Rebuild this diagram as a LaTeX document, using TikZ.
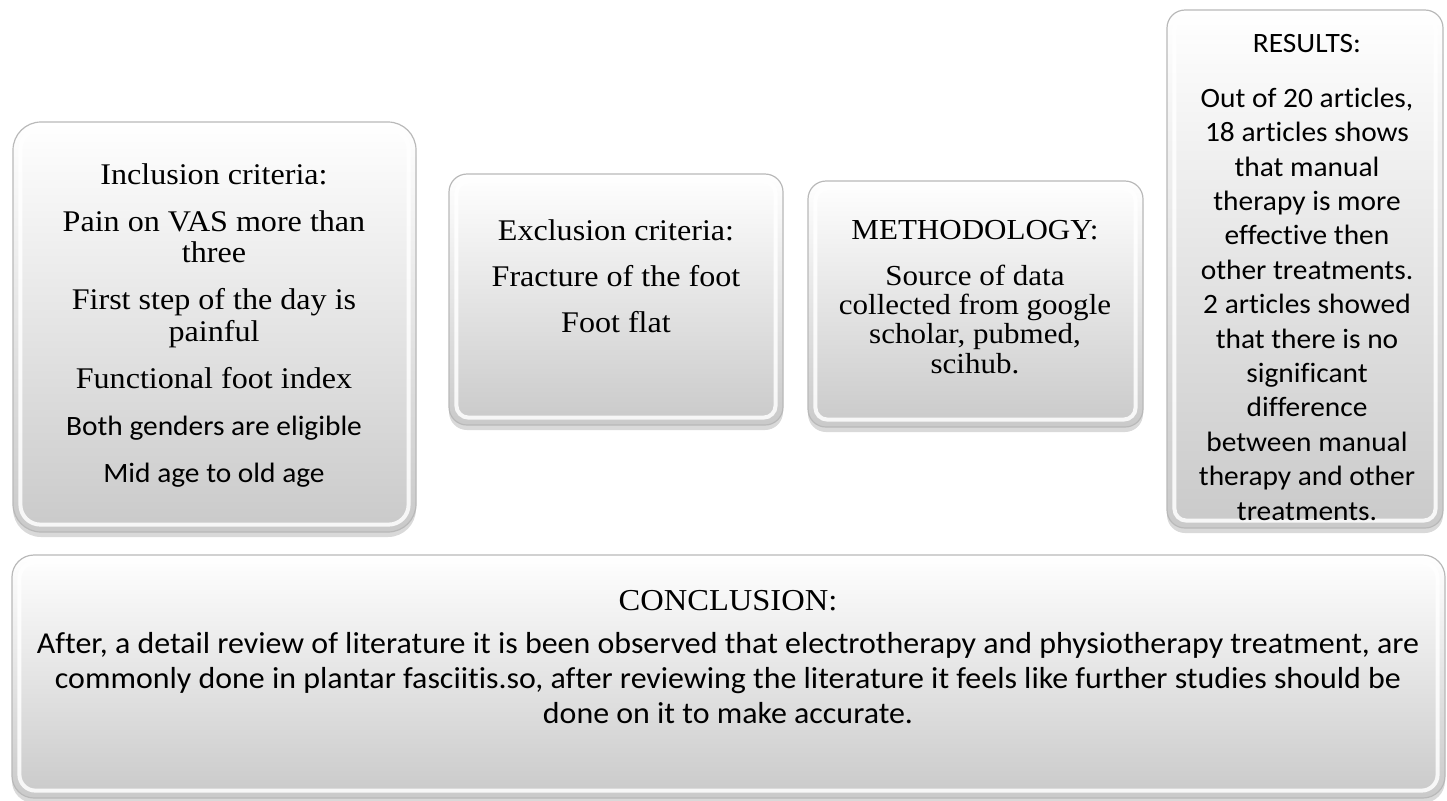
\documentclass[tikz,border=0pt]{standalone}
\usepackage{fontspec}
\setmainfont[FakeStretch=1.07, Ligatures=NoCommon]{Liberation Serif}
\newfontfamily\calfont[FakeStretch=1.05, Ligatures=NoCommon]{Carlito}
\usetikzlibrary{shadows,calc}
\tikzset{
  panel/.style={draw=gray!55, line width=0.6pt, top color=white, bottom color=gray!42,
    drop shadow={opacity=0.3, shadow xshift=0pt, shadow yshift=-2.5pt}, inner sep=0pt},
  rim/.style={draw=white, line width=2pt, opacity=0.85},
  boxtext/.style={align=center, anchor=base, inner sep=0pt},
}

\begin{document}
\begin{tikzpicture}[x=0.5pt, y=-0.5pt]
  \useasboundingbox (0,0) rectangle (1447,800);
  % Draw the boxes
  \node[panel, rounded corners=14pt, minimum width=201.5pt, minimum height=205pt] (incl) at (214.5,327) {};
  \node[panel, rounded corners=9pt, minimum width=167pt, minimum height=125.5pt] (excl) at (616,299.5) {};
  \node[panel, rounded corners=9pt, minimum width=167.5pt, minimum height=123pt] (meth) at (975.5,304) {};
  \node[panel, rounded corners=9pt, minimum width=138pt, minimum height=259pt] (res) at (1305,269) {};
  \node[panel, rounded corners=11pt, minimum width=716.5pt, minimum height=121.5pt] (concl) at (728.5,676.5) {};
  % bevel rims
  \draw[rim, rounded corners=10pt] ([shift={(8,8)}]incl.north west) rectangle ([shift={(-8,-8)}]incl.south east);
  \draw[rim, rounded corners=6pt] ([shift={(8,8)}]excl.north west) rectangle ([shift={(-8,-8)}]excl.south east);
  \draw[rim, rounded corners=6pt] ([shift={(8,8)}]meth.north west) rectangle ([shift={(-8,-8)}]meth.south east);
  \draw[rim, rounded corners=6pt] ([shift={(8,8)}]res.north west) rectangle ([shift={(-8,-8)}]res.south east);
  \draw[rim, rounded corners=8pt] ([shift={(8,8)}]concl.north west) rectangle ([shift={(-8,-8)}]concl.south east);
  % Texts (anchored at the baseline of the last line)
  \node[boxtext, font=\fontsize{15}{15.75}\selectfont] (incltext) at (214,482)
    {Inclusion criteria:\\[7.75pt]
     Pain on VAS more than\\three\\[7.75pt]
     First step of the day is\\painful\\[7.75pt]
     Functional foot index\\[7.75pt]
     {\calfont\fontsize{14}{15.75}\selectfont Both genders are eligible}\\[7.75pt]
     {\calfont\fontsize{14}{15.75}\selectfont Mid age to old age}};
  \node[boxtext, font=\fontsize{15}{23}\selectfont] (excltext) at (616,332)
    {Exclusion criteria:\\Fracture of the foot\\Foot flat};
  \node[boxtext, font=\fontsize{14.5}{14.6}\selectfont] (methtext) at (975,373)
    {METHODOLOGY:\\[8.4pt] Source of data\\collected from google\\scholar, pubmed,\\scihub.};
  \node[boxtext, font=\calfont\fontsize{14}{17.2}\selectfont] (restext) at (1307,520)
    {RESULTS:\\[10.3pt] Out of 20 articles,\\18 articles shows\\that manual\\therapy is more\\effective then\\other treatments.\\2 articles showed\\that there is no\\significant\\difference\\between manual\\therapy and other\\treatments.};
  \node[boxtext, font=\calfont\fontsize{15.2}{17.5}\selectfont] (concltext) at (728,723)
    {{\rmfamily CONCLUSION:}\\[4pt]
     After, a detail review of literature it is been observed that electrotherapy and physiotherapy treatment, are\\
     commonly done in plantar fasciitis.so, after reviewing the literature it feels like further studies should be\\
     done on it to make accurate.};
\end{tikzpicture}
\end{document}
